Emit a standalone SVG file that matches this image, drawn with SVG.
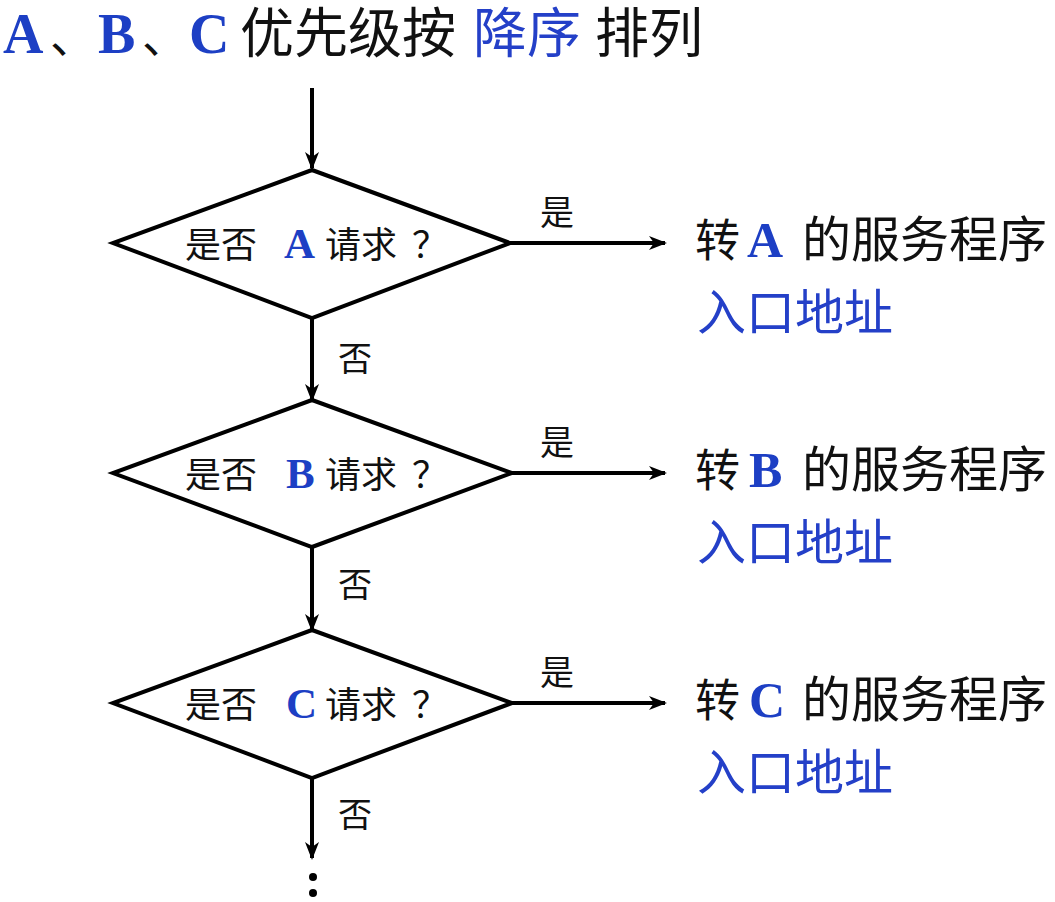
<svg xmlns="http://www.w3.org/2000/svg" width="1055" height="902" viewBox="0 0 1055 902">
<style>
.cjk{font-family:"Noto Sans CJK SC","Noto Sans",sans-serif;fill:#111}
.lat{font-family:"Liberation Serif","Noto Sans CJK SC",serif;font-weight:bold;fill:#1d3fc4}
.blue{fill:#2440c8}
.dia{fill:#fff;stroke:#000;stroke-width:4;stroke-linejoin:miter}
.ln{stroke:#000;stroke-width:4;fill:none}
.t36{font-size:36px}
.t34{font-size:34px}
.t49{font-size:49px}
.t54{font-size:54px}
</style>
<defs>
<marker id="ah" markerUnits="userSpaceOnUse" markerWidth="20" markerHeight="14" refX="16" refY="7" orient="auto">
<path d="M0,0 L18,7 L0,14 L5,7 z" fill="#000"/>
</marker>
</defs>
<rect width="1055" height="902" fill="#fff"/>
<g id="title">
<text y="53" class="t54"><tspan class="lat" x="3" font-size="56">A</tspan><tspan class="cjk" x="50" font-size="46">、</tspan><tspan class="lat" x="98" font-size="56">B</tspan><tspan class="cjk" x="142" font-size="46">、</tspan><tspan class="lat" x="189" font-size="56">C</tspan><tspan class="cjk" x="240">优先级按</tspan><tspan class="cjk blue" x="473">降序</tspan><tspan class="cjk" x="595">排列</tspan></text>
</g>
<g id="connectors">
<line class="ln" x1="312" y1="88" x2="312" y2="168" marker-end="url(#ah)"/>
<line class="ln" x1="312" y1="318" x2="312" y2="400" marker-end="url(#ah)"/>
<line class="ln" x1="312" y1="547" x2="312" y2="630" marker-end="url(#ah)"/>
<line class="ln" x1="312" y1="778" x2="312" y2="858" marker-end="url(#ah)"/>
<line class="ln" x1="510" y1="243" x2="665" y2="243" marker-end="url(#ah)"/>
<line class="ln" x1="512" y1="473" x2="665" y2="473" marker-end="url(#ah)"/>
<line class="ln" x1="512" y1="703" x2="665" y2="703" marker-end="url(#ah)"/>
<text class="cjk t34" x="540" y="225">是</text>
<text class="cjk t34" x="540" y="455">是</text>
<text class="cjk t34" x="540" y="685">是</text>
<text class="cjk t34" x="338" y="371">否</text>
<text class="cjk t34" x="338" y="597">否</text>
<text class="cjk t34" x="338" y="827">否</text>
<circle cx="313" cy="877" r="4" fill="#000"/>
<circle cx="313" cy="893" r="4" fill="#000"/>
</g>
<g id="decisionA">
<polygon class="dia" points="312,170 510,243 312,318 113,243"/>
<text y="258" class="t36"><tspan class="cjk" x="185">是否</tspan><tspan class="lat" x="284" font-size="43">A</tspan><tspan class="cjk" x="325">请求</tspan><tspan class="cjk" x="412">？</tspan></text>
</g>
<g id="decisionB">
<polygon class="dia" points="312,400 512,473 312,547 113,473"/>
<text y="488" class="t36"><tspan class="cjk" x="185">是否</tspan><tspan class="lat" x="286" font-size="43">B</tspan><tspan class="cjk" x="325">请求</tspan><tspan class="cjk" x="412">？</tspan></text>
</g>
<g id="decisionC">
<polygon class="dia" points="312,630 512,703 312,778 113,703"/>
<text y="718" class="t36"><tspan class="cjk" x="185">是否</tspan><tspan class="lat" x="286" font-size="43">C</tspan><tspan class="cjk" x="325">请求</tspan><tspan class="cjk" x="412">？</tspan></text>
</g>
<g id="targetA">
<text y="257" class="t49"><tspan class="cjk" x="695" font-size="45">转</tspan><tspan class="lat" x="747" font-size="50">A</tspan><tspan class="cjk" x="802">的服务程序</tspan></text>
<text class="cjk blue t49" x="697" y="330">入口地址</text>
</g>
<g id="targetB">
<text y="487" class="t49"><tspan class="cjk" x="695" font-size="45">转</tspan><tspan class="lat" x="749" font-size="50">B</tspan><tspan class="cjk" x="802">的服务程序</tspan></text>
<text class="cjk blue t49" x="697" y="560">入口地址</text>
</g>
<g id="targetC">
<text y="717" class="t49"><tspan class="cjk" x="695" font-size="45">转</tspan><tspan class="lat" x="749" font-size="50">C</tspan><tspan class="cjk" x="802">的服务程序</tspan></text>
<text class="cjk blue t49" x="697" y="790">入口地址</text>
</g>
</svg>
